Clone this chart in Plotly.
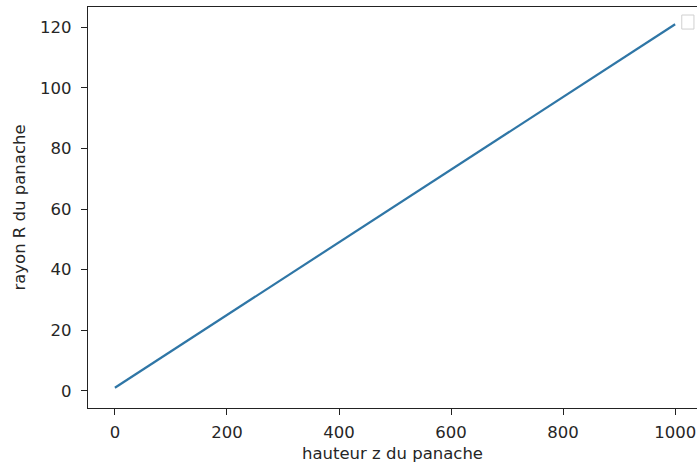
import plotly.graph_objects as go

# data
hauteur_z = [0, 200, 400, 600, 800, 1000]
rayon_R = [1, 25, 49, 73, 97, 121]

x_ticks = [0, 200, 400, 600, 800, 1000]
y_ticks = [0, 20, 40, 60, 80, 100, 120]

fig = go.Figure()
fig.add_trace(go.Scatter(x=hauteur_z, y=rayon_R, mode="lines",
                         line=dict(color="#2f76a6", width=2.2),
                         showlegend=False))

axis_common = dict(showgrid=False, zeroline=False, showline=True,
                   linecolor="#222222", linewidth=1.3, ticks="outside",
                   ticklen=6, tickwidth=1.2, tickcolor="#222222",
                   ticklabeloverflow="allow",
                   tickfont=dict(family="DejaVu Sans", size=16.5, color="#262626"))

fig.update_layout(
    width=697, height=467,
    margin=dict(l=88, r=0, t=7, b=59),
    paper_bgcolor="white", plot_bgcolor="white",
    font=dict(family="DejaVu Sans", size=16, color="#262626"),
    xaxis=dict(range=[-48, 1039], tickvals=x_ticks, mirror=True,
               ticklabelstandoff=3,
               title=dict(text="hauteur z du panache", standoff=6,
                          font=dict(size=16.5)),
               **axis_common),
    yaxis=dict(range=[-5.7, 126.7], tickvals=y_ticks,
               ticklabelstandoff=6,
               title=dict(text="rayon R du panache", standoff=10,
                          font=dict(size=16.5)),
               **axis_common),
    shapes=[dict(type="rect", xref="paper", yref="paper",
                 x0=0.975, x1=0.995, y0=0.945, y1=0.98,
                 line=dict(color="#d0d0d0", width=1), fillcolor="white")],
)

fig.write_html("out.html")
